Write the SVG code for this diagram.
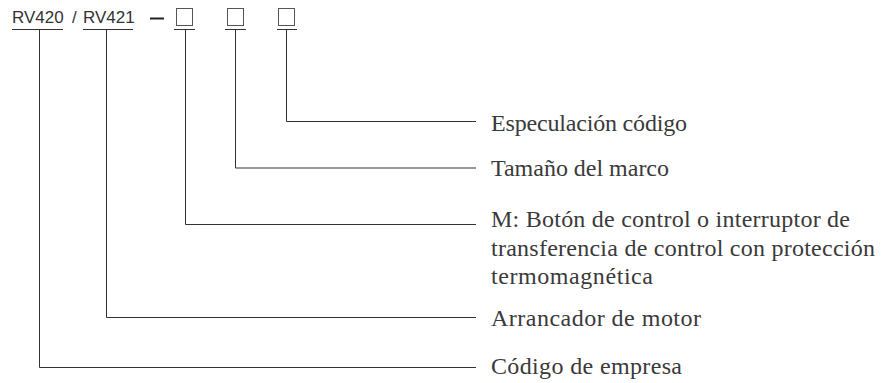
<svg xmlns="http://www.w3.org/2000/svg" width="884" height="383" viewBox="0 0 884 383">
<style>
.code{font-family:"Liberation Sans",Arial,sans-serif;font-size:17px;fill:#333}
.lbl{font-family:"Liberation Serif","Times New Roman",serif;font-size:24px;fill:#3a3a3a}
.ln{fill:none;stroke:#333;stroke-width:1}
.box{fill:#fff;stroke:#555;stroke-width:1}
</style>
<rect width="884" height="383" fill="#fff"/>
<g id="code">
<text class="code" y="23"><tspan x="12">RV420</tspan><tspan x="72">/</tspan><tspan x="83">RV421</tspan></text>
<line class="ln" x1="12" y1="29.5" x2="63" y2="29.5"/>
<line class="ln" x1="83" y1="29.5" x2="133" y2="29.5"/>
<line x1="150" y1="18.5" x2="164" y2="18.5" stroke="#222" stroke-width="2"/>
<rect class="box" x="176.5" y="8.5" width="16" height="17"/>
<rect class="box" x="227.5" y="8.5" width="16" height="17"/>
<rect class="box" x="278.5" y="8.5" width="16" height="17"/>
<line class="ln" x1="174" y1="29.5" x2="195" y2="29.5"/>
<line class="ln" x1="225" y1="29.5" x2="246" y2="29.5"/>
<line class="ln" x1="277" y1="29.5" x2="297" y2="29.5"/>
</g>
<g id="connectors">
<polyline class="ln" points="286.5,29.5 286.5,121.5 476,121.5"/>
<polyline class="ln" points="235.5,29.5 235.5,168 476,168"/>
<polyline class="ln" points="185.5,29.5 185.5,224.5 476,224.5"/>
<polyline class="ln" points="106.5,29.5 106.5,317.5 476,317.5"/>
<polyline class="ln" points="39.5,29.5 39.5,367.5 476,367.5"/>
</g>
<g id="label-spec"><text class="lbl" x="491" y="131" textLength="196" lengthAdjust="spacing">Especulación código</text></g>
<g id="label-frame"><text class="lbl" x="491" y="176" textLength="178" lengthAdjust="spacing">Tamaño del marco</text></g>
<g id="label-m">
<text class="lbl" x="491" y="227" textLength="359" lengthAdjust="spacing">M: Botón de control o interruptor de</text>
<text class="lbl" x="491" y="255.5" textLength="384" lengthAdjust="spacing">transferencia de control con protección</text>
<text class="lbl" x="491" y="284" textLength="162" lengthAdjust="spacing">termomagnética</text>
</g>
<g id="label-starter"><text class="lbl" x="491" y="326" textLength="210" lengthAdjust="spacing">Arrancador de motor</text></g>
<g id="label-company"><text class="lbl" x="491" y="374" textLength="191" lengthAdjust="spacing">Código de empresa</text></g>
</svg>
